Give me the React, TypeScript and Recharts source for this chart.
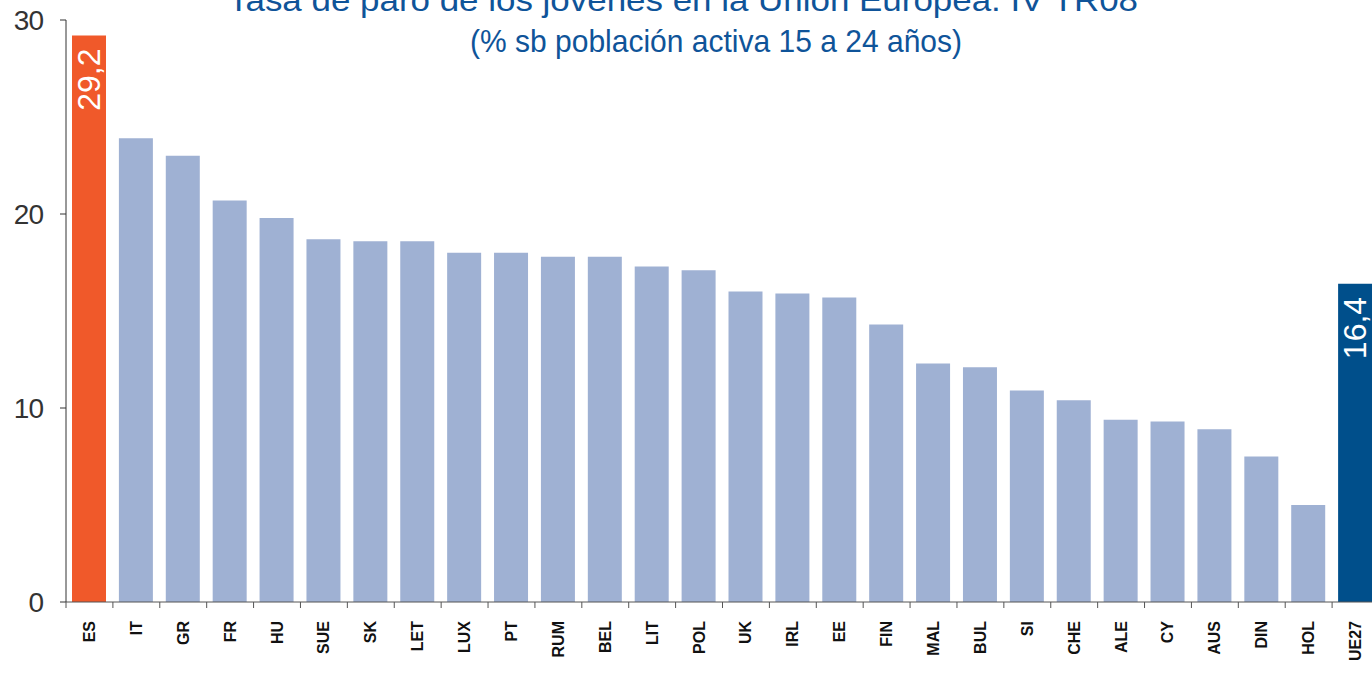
import { Bar, BarChart, Cell, LabelList, XAxis, YAxis } from "recharts";

// Paro juvenil en la UE, IV trimestre 2008 (% s/ población activa 15-24 años)
const paises = [
  "ES", "IT", "GR", "FR", "HU", "SUE", "SK", "LET", "LUX", "PT",
  "RUM", "BEL", "LIT", "POL", "UK", "IRL", "EE", "FIN", "MAL", "BUL",
  "SI", "CHE", "ALE", "CY", "AUS", "DIN", "HOL", "UE27",
];

const tasas = [
  29.2, 23.9, 23.0, 20.7, 19.8, 18.7, 18.6, 18.6, 18.0, 18.0,
  17.8, 17.8, 17.3, 17.1, 16.0, 15.9, 15.7, 14.3, 12.3, 12.1,
  10.9, 10.4, 9.4, 9.3, 8.9, 7.5, 5.0, 16.4,
];

const ticksY = [0, 10, 20, 30];

// solo España y la media UE llevan etiqueta y color propio
const destacados: Record<string, string> = { ES: "#F0592A", UE27: "#004F8B" };

const titulo1 = "Tasa de paro de los jóvenes en la Unión Europea. IV TR08";
const titulo2 = "(% sb población activa 15 a 24 años)";

const COLOR_BARRA = "#9FB1D3";
const COLOR_TITULO = "#0F5499";
const FUENTE = "'Liberation Sans', Arial, sans-serif";

const ANCHO = 1379;
const ALTO = 673;
const EJE_Y = 66;
const ANCHO_CAT = (ANCHO - EJE_Y) / paises.length;

const datos = paises.map((pais, i) => ({ pais, tasa: tasas[i] }));

function TickPais(props: any) {
  const { x, y, payload } = props;
  const xb = x - ANCHO_CAT / 2;
  return (
    <g>
      <line x1={xb} y1={y - 6} x2={xb} y2={y} stroke="#555" />
      <text
        x={x}
        y={y + 13}
        transform={`rotate(-90 ${x} ${y + 13})`}
        textAnchor="end"
        dominantBaseline="central"
        fontSize={16}
        fontWeight="bold"
        fontFamily={FUENTE}
        fill="#111"
      >
        {payload.value}
      </text>
    </g>
  );
}

function EtiquetaValor(props: any) {
  const { x, y, width, index } = props;
  const pais = paises[index];
  if (!destacados[pais]) return null;
  const cx = x + width / 2;
  const ty = y + 13;
  return (
    <text
      x={cx}
      y={ty}
      transform={`rotate(-90 ${cx} ${ty})`}
      textAnchor="end"
      dominantBaseline="central"
      fontSize={32}
      fontFamily={FUENTE}
      fill="#fff"
    >
      {tasas[index].toFixed(1).replace(".", ",")}
    </text>
  );
}

export default function App() {
  return (
    <div
      style={{
        position: "fixed",
        left: 0,
        top: 0,
        width: 1372,
        height: 673,
        overflow: "hidden",
        background: "#fff",
      }}
    >
      <BarChart
        width={ANCHO}
        height={ALTO}
        data={datos}
        margin={{ top: 20, right: 0, bottom: 0, left: 0 }}
        barSize={34}
      >
        <XAxis
          dataKey="pais"
          height={71}
          interval={0}
          tickLine={false}
          tickSize={6}
          tickMargin={0}
          axisLine={{ stroke: "#555" }}
          tick={<TickPais />}
        />
        <YAxis
          width={EJE_Y}
          domain={[0, 30]}
          ticks={ticksY}
          tickSize={6}
          tickMargin={17}
          axisLine={{ stroke: "#333" }}
          tickLine={{ stroke: "#333" }}
          tick={{ fontSize: 28, fill: "#333", fontFamily: FUENTE, letterSpacing: -1 }}
        />
        <Bar dataKey="tasa" isAnimationActive={false}>
          {datos.map((d) => (
            <Cell key={d.pais} fill={destacados[d.pais] ?? COLOR_BARRA} />
          ))}
          <LabelList dataKey="tasa" content={<EtiquetaValor />} />
        </Bar>
      </BarChart>
      <svg
        width={1372}
        height={673}
        style={{ position: "absolute", left: 0, top: 0, pointerEvents: "none" }}
      >
        <text
          x={228}
          y={11}
          fontSize={32}
          fontFamily={FUENTE}
          fill={COLOR_TITULO}
          textLength={910}
          lengthAdjust="spacingAndGlyphs"
        >
          {titulo1}
        </text>
        <text
          x={470}
          y={52}
          fontSize={32}
          fontFamily={FUENTE}
          fill={COLOR_TITULO}
          textLength={492}
          lengthAdjust="spacingAndGlyphs"
        >
          {titulo2}
        </text>
      </svg>
    </div>
  );
}
